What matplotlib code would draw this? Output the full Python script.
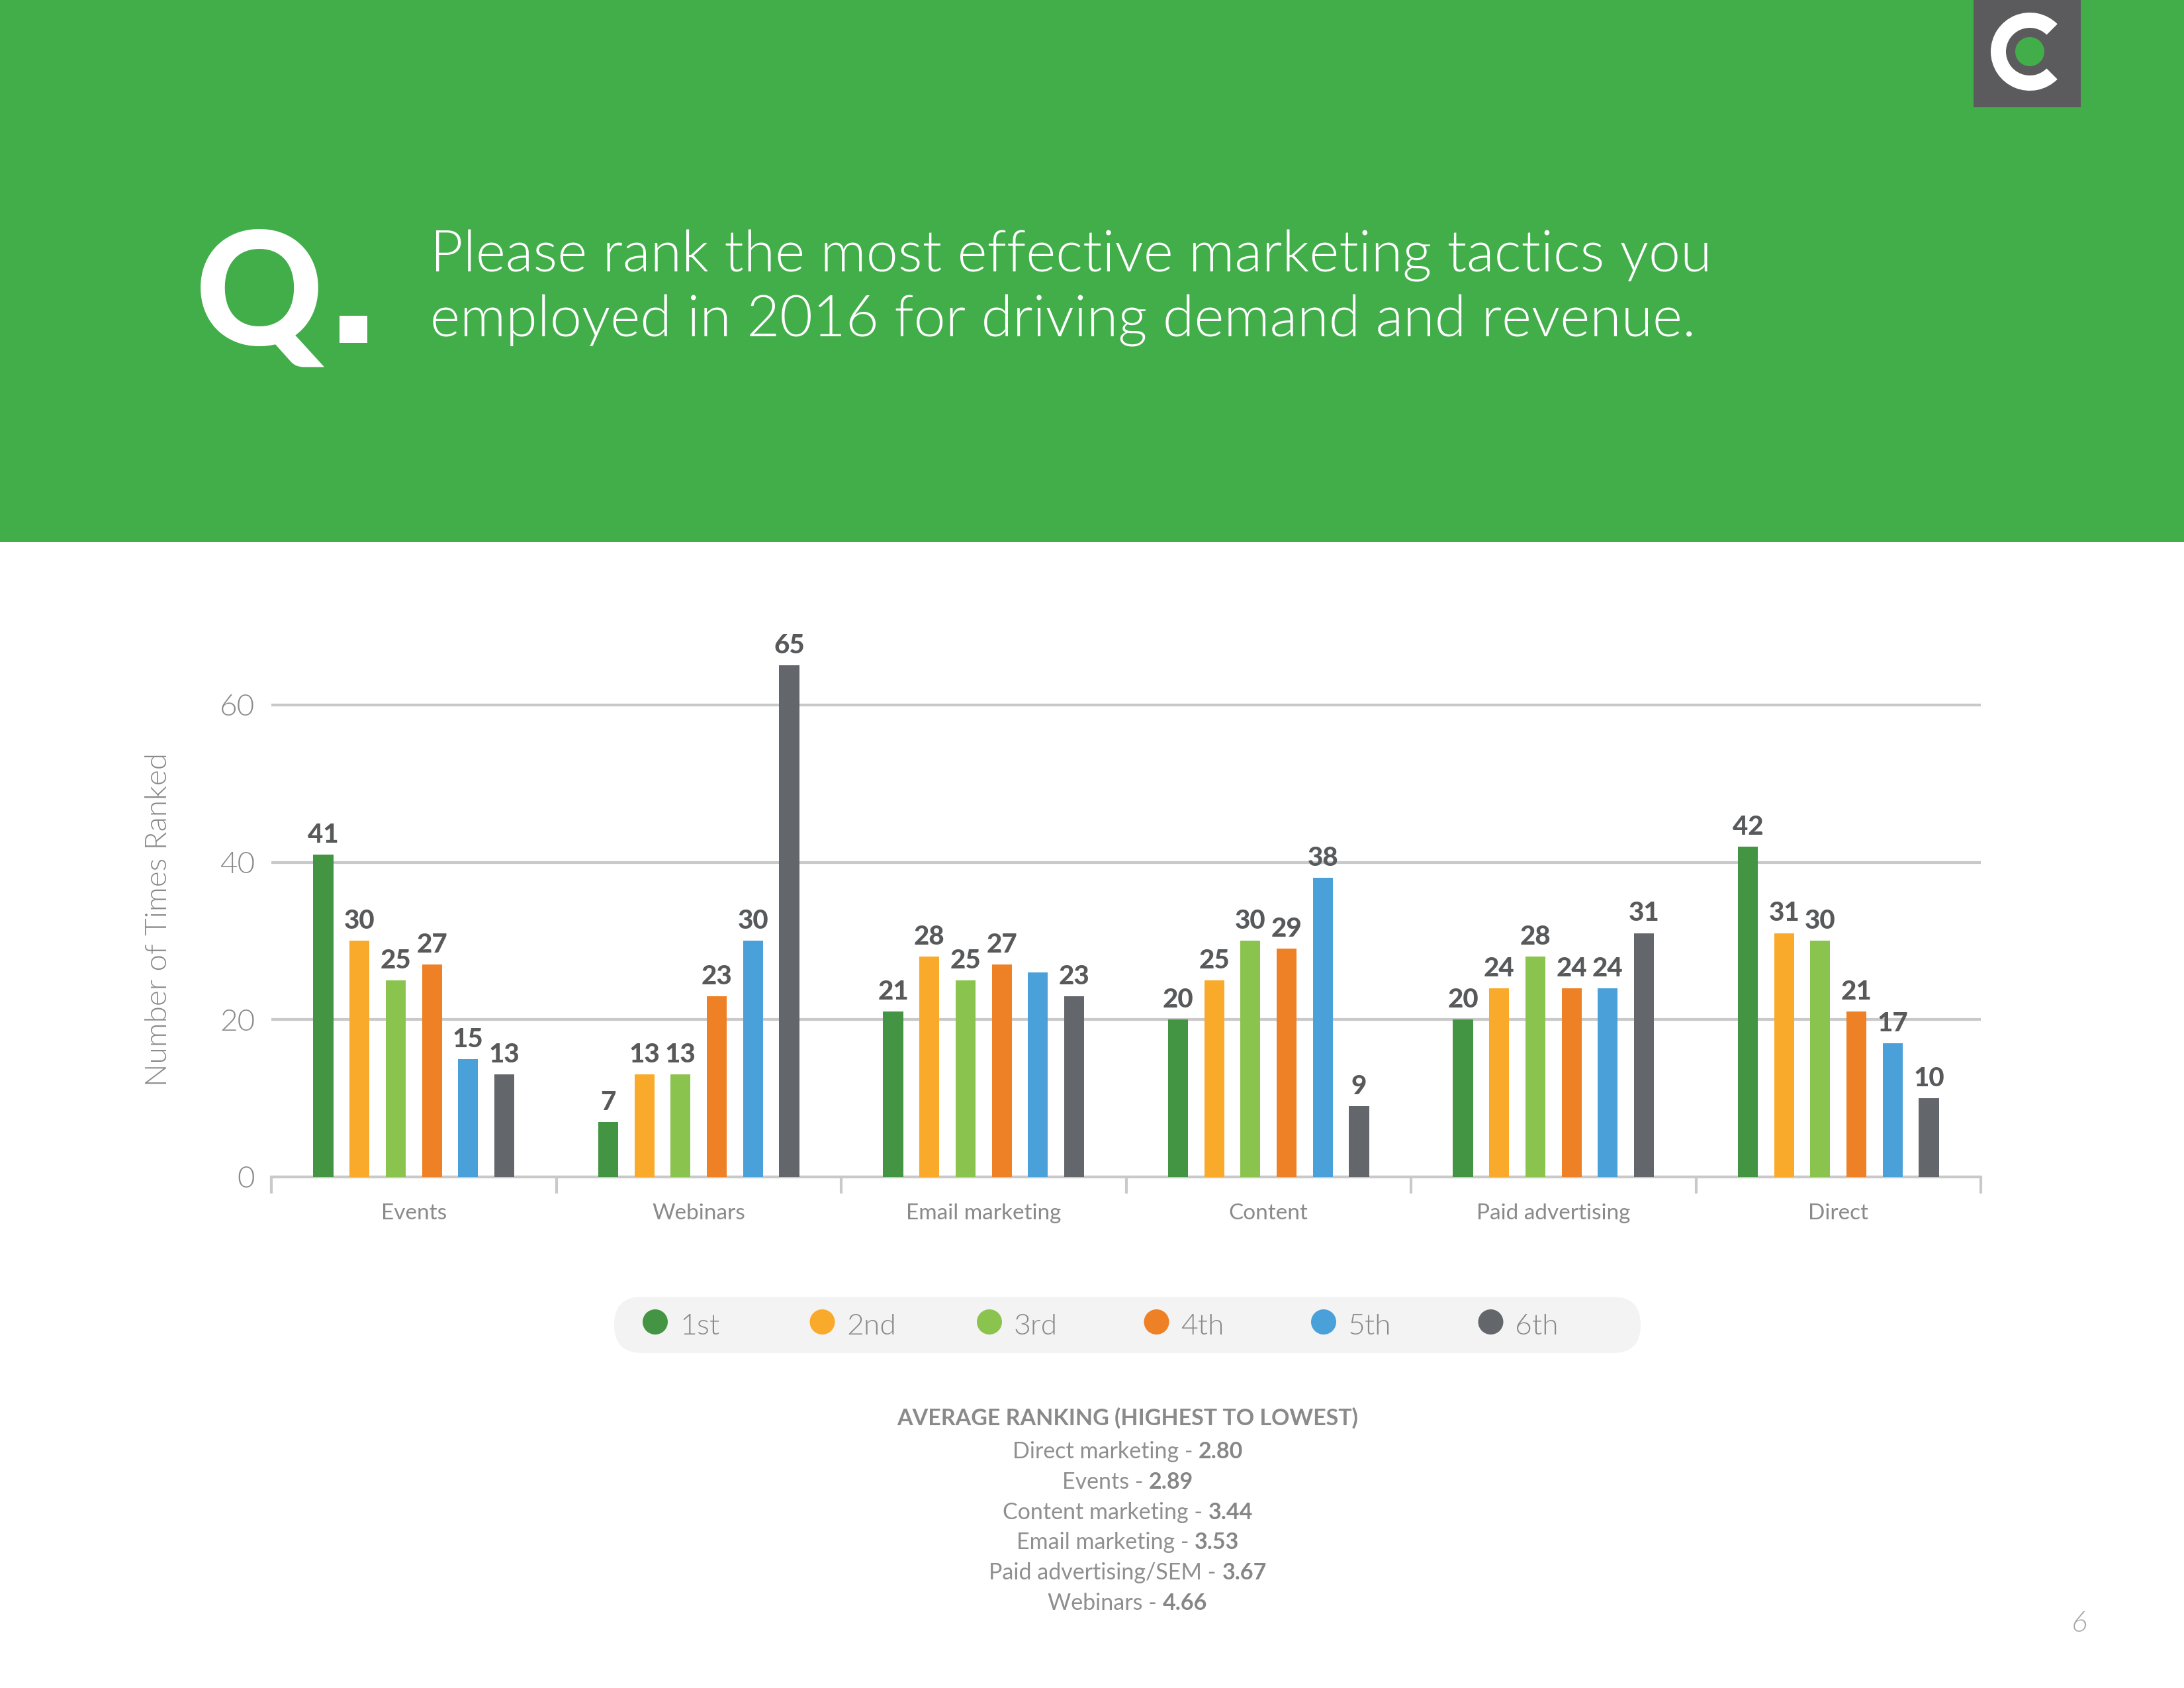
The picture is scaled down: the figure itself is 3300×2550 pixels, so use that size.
import matplotlib
matplotlib.use('Agg')
import matplotlib.pyplot as plt
from matplotlib.patches import Rectangle, Circle, Wedge, FancyBboxPatch
import numpy as np

plt.rcParams['font.family'] = ['Lato', 'DejaVu Sans']

# data
categories = ['Events', 'Webinars', 'Email marketing', 'Content', 'Paid advertising', 'Direct']
ranks = ['1st', '2nd', '3rd', '4th', '5th', '6th']
first = [41, 7, 21, 20, 20, 42]
second = [30, 13, 28, 25, 24, 31]
third = [25, 13, 25, 30, 28, 30]
fourth = [27, 23, 27, 29, 24, 21]
fifth = [15, 30, 26, 38, 24, 17]
sixth = [13, 65, 23, 9, 31, 10]
# the 5th bar of email marketing carries no printed value
fifth_labels = ['15', '30', '', '38', '24', '17']

avg_tactics = ['Direct marketing', 'Events', 'Content marketing', 'Email marketing',
               'Paid advertising/SEM', 'Webinars']
avg_scores = [2.80, 2.89, 3.44, 3.53, 3.67, 4.66]

series = [first, second, third, fourth, fifth, sixth]
labels = [[str(v) for v in first], [str(v) for v in second], [str(v) for v in third],
          [str(v) for v in fourth], fifth_labels, [str(v) for v in sixth]]
colors = ['#439544', '#f9aa2a', '#8bc34f', '#ee8025', '#4aa0d8', '#63676b']
header_green = '#42ae4a'
txt_gray = '#8a8a8a'
lbl_gray = '#58595b'
grid_gray = '#c9c9c9'

W, H = 3300, 2550
fig = plt.figure(figsize=(W / 100, H / 100), dpi=100)

# background layer in pixel coordinates (y down)
bg = fig.add_axes([0, 0, 1, 1], zorder=0)
bg.set_xlim(0, W)
bg.set_ylim(H, 0)
bg.axis('off')

# green header
bg.add_patch(Rectangle((0, 0), W, 819, color=header_green, lw=0))

# logo
bg.add_patch(Rectangle((2982, 0), 162, 162, color='#5b5b5d', lw=0))
bg.add_patch(Wedge((3067, 78), 59, 45, 315, width=23, color='white', lw=0))
bg.add_patch(Circle((3067, 78), 22, color=header_green, lw=0))

# Q.
bg.text(295, 521, 'Q', color='white', fontsize=172, fontweight='black', va='baseline', ha='left')
bg.add_patch(Rectangle((513, 477), 42, 41, color='white', lw=0))

bg.text(650, 410, 'Please rank the most effective marketing tactics you',
        color='white', fontsize=62, fontweight=300, va='baseline')
bg.text(650, 508, 'employed in 2016 for driving demand and revenue.',
        color='white', fontsize=62, fontweight=300, va='baseline')

# chart
ax = fig.add_axes([410 / W, (H - 1778) / H, (2993 - 410) / W, 832 / H], zorder=1)
ax.patch.set_alpha(0)
x = np.arange(len(categories))
bw = 0.07
step = 0.127
for i, (vals, labs, c) in enumerate(zip(series, labels, colors)):
    xs = x + (i - 2.5) * step
    ax.bar(xs, vals, width=bw, color=c, zorder=3)
    for xi, v, t in zip(xs, vals, labs):
        if t:
            ax.annotate(t, (xi, v), xytext=(0, 8), textcoords='offset points',
                        ha='center', va='bottom', fontsize=29, fontweight='black',
                        color=lbl_gray)

ax.set_xlim(-0.5, len(categories) - 0.5)
ax.set_ylim(0, 70)
ax.set_yticks([0, 20, 40, 60])
ax.yaxis.grid(True, color=grid_gray, lw=3, zorder=0)
ax.tick_params(axis='y', length=0, pad=18, labelsize=33, labelcolor=txt_gray)
for s in ['top', 'right', 'left']:
    ax.spines[s].set_visible(False)
ax.spines['bottom'].set_color(grid_gray)
ax.spines['bottom'].set_linewidth(3)
ax.set_xticks(np.arange(-0.5, len(categories)), minor=False)
ax.set_xticklabels([])
ax.tick_params(axis='x', which='major', length=18, width=3, color=grid_gray, direction='out')
ax.set_xticks(x, minor=True)
ax.set_xticklabels(categories, minor=True)
ax.tick_params(axis='x', which='minor', length=0, pad=29, labelsize=24, labelcolor=txt_gray)
for lab in ax.get_yticklabels():
    lab.set_fontweight(300)

fig.text(240 / W, 1 - 1389 / H, 'Number of Times Ranked', rotation=90, ha='center',
         va='center', fontsize=33, color=txt_gray, fontweight=300)

# legend
bg.add_patch(FancyBboxPatch((928, 1959), 1551, 85, boxstyle='round,pad=0,rounding_size=42',
                            color='#f3f3f3', lw=0))
for i, (r, c) in enumerate(zip(ranks, colors)):
    cx = 990 + i * 252.5
    bg.add_patch(Circle((cx, 1997), 19, color=c, lw=0))
    bg.text(cx + 37, 2016, r, fontsize=32, color=txt_gray, fontweight=300, va='baseline')

# average ranking block
bg.text(1704, 2153, 'AVERAGE RANKING (HIGHEST TO LOWEST)', ha='center', va='baseline',
        fontsize=24.5, fontweight='bold', color='#8a8a8a')
fig.canvas.draw()
rend = fig.canvas.get_renderer()
for i, (name, score) in enumerate(zip(avg_tactics, avg_scores)):
    yb = 2203 + i * 45.8
    t1 = bg.text(0, yb, name + ' -', fontsize=24.5, color='#8f8f8f', va='baseline')
    t2 = bg.text(0, yb, '%.2f' % score, fontsize=24.5, fontweight='bold', color='#868686',
                 va='baseline')
    w1 = t1.get_window_extent(rend).width
    w2 = t2.get_window_extent(rend).width
    gap = 9
    x0 = 1704 - (w1 + gap + w2) / 2
    t1.set_x(x0)
    t2.set_x(x0 + w1 + gap)

bg.text(3142, 2465, '6', fontsize=32, color='#a8a8a8', fontstyle='italic',
        fontweight=300, ha='center', va='baseline')

fig.savefig('out.png', dpi=100)
